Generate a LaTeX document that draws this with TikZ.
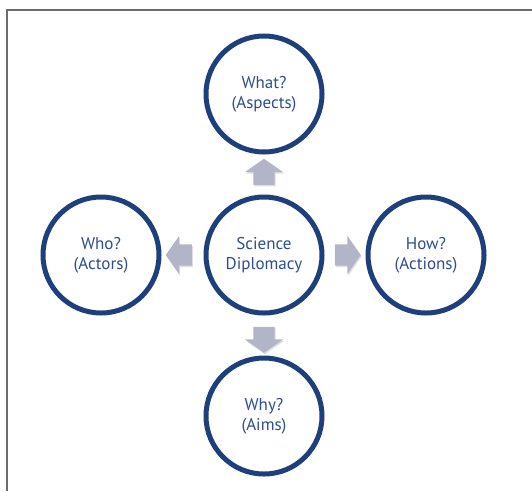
\documentclass[tikz,border=0pt]{standalone}
\usepackage{fontspec}
\setmainfont{PT Sans}
\usetikzlibrary{shapes.arrows,shadows,positioning}
\definecolor{ringblue}{HTML}{1F3F7C}
\definecolor{textblue}{HTML}{2E4D8F}
\definecolor{arrowgray}{HTML}{B2B4C7}

\begin{document}
\begin{tikzpicture}[
    x=1pt,y=-1pt,
    frame/.style={draw=gray!85!black,line width=1.6pt},
    topic/.style={circle,draw=ringblue,fill=white,line width=5pt,minimum size=116pt,
        inner sep=0pt,align=center,text=textblue,font=\fontsize{17pt}{20pt}\selectfont,
        drop shadow={shadow xshift=1pt,shadow yshift=-1.5pt,opacity=0.3}},
    blockarrow/.style={single arrow,draw=none,fill=arrowgray,inner xsep=0pt,inner ysep=10.5pt,
        minimum height=26pt,single arrow head extend=8.5pt,
        single arrow tip angle=110,
        drop shadow={shadow xshift=1pt,shadow yshift=-1.5pt,opacity=0.25}},
]
\useasboundingbox (0,0) rectangle (532,491);
\draw[frame] (532,10) -- (7,10) -- (7,491);

\node[topic] (sd) at (264,255) {Science\\Diplomacy};
\node[topic] (what) at (264,94) {What?\\(Aspects)};
\node[topic] (why) at (264,416) {Why?\\(Aims)};
\node[topic] (who) at (101,255) {Who?\\(Actors)};
\node[topic] (how) at (426,255) {How?\\(Actions)};

% block arrows from the centre outwards
\node[blockarrow,rotate=90] (upArr) at (264,175.5) {};
\node[blockarrow,rotate=-90] (downArr) at (264,336) {};
\node[blockarrow,rotate=180] (leftArr) at (182.5,255) {};
\node[blockarrow] (rightArr) at (344,255) {};
\end{tikzpicture}
\end{document}
